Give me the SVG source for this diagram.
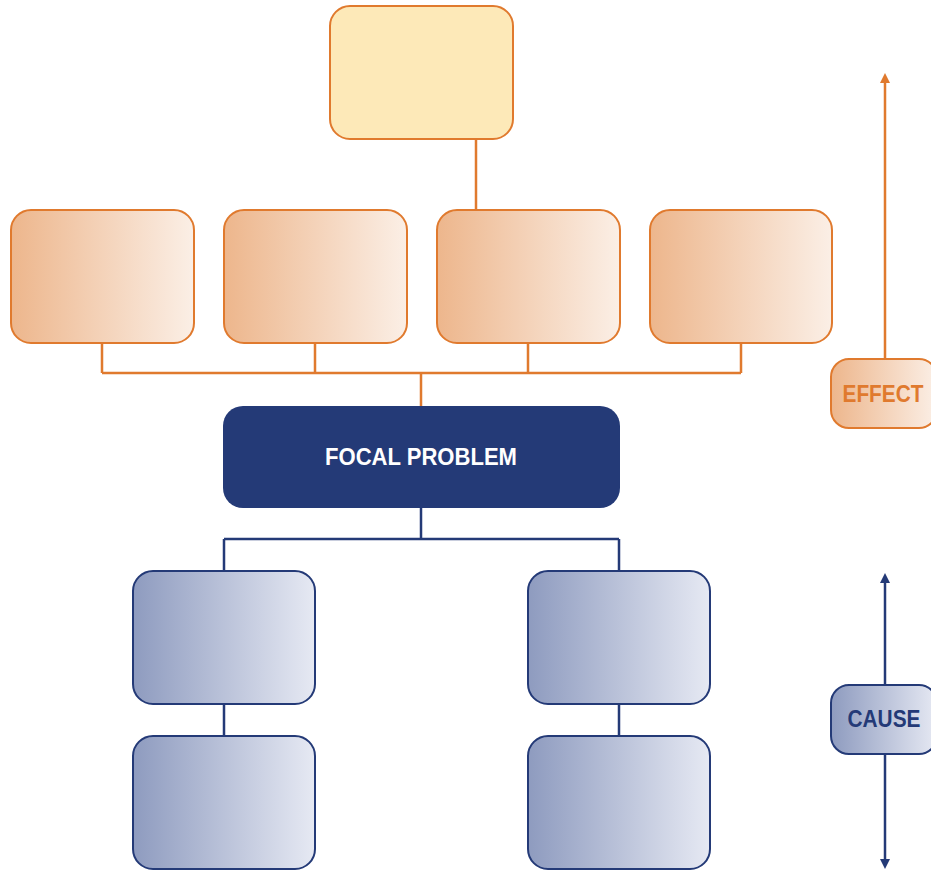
<svg xmlns="http://www.w3.org/2000/svg" width="931" height="872" viewBox="0 0 931 872">
<defs>
<linearGradient id="og" x1="0" y1="0" x2="1" y2="0"><stop offset="0" stop-color="#edb68c"/><stop offset="1" stop-color="#fbefe6"/></linearGradient>
<linearGradient id="bg" x1="0" y1="0" x2="1" y2="0"><stop offset="0" stop-color="#8e9bbf"/><stop offset="1" stop-color="#e6e9f3"/></linearGradient>
<marker id="ao" viewBox="0 0 10 10" refX="5" refY="5" markerWidth="10" markerHeight="10" markerUnits="userSpaceOnUse" orient="auto-start-reverse"><path d="M0,0 L10,5 L0,10 z" fill="#e07a2e"/></marker>
<marker id="ab" viewBox="0 0 10 10" refX="5" refY="5" markerWidth="10" markerHeight="10" markerUnits="userSpaceOnUse" orient="auto-start-reverse"><path d="M0,0 L10,5 L0,10 z" fill="#243a77"/></marker>
</defs>
<style>
.eff{fill:url(#og);stroke:#e07a2e;stroke-width:2}
.cau{fill:url(#bg);stroke:#243a77;stroke-width:2}
.co{fill:none;stroke:#e07a2e;stroke-width:2.5}
.cb{fill:none;stroke:#243a77;stroke-width:2.5}
.lbl{font-family:"Liberation Sans",Arial,sans-serif;font-weight:bold;text-anchor:middle}
</style>
<rect width="931" height="872" fill="#ffffff"/>
<g id="connectors">
<path class="co" d="M476,139 V210"/>
<path class="co" d="M102,343 V373 M315,343 V373 M528,343 V373 M741,343 V373 M102,373 H741 M421,373 V406"/>
<path class="cb" d="M421,508 V539 M224,539 H619 M224,539 V571 M619,539 V571 M224,704 V736 M619,704 V736"/>
<path class="co" d="M885,359 V78" marker-end="url(#ao)"/>
<path class="cb" d="M885,685 V578" marker-end="url(#ab)"/>
<path class="cb" d="M885,754 V864" marker-end="url(#ab)"/>
</g>
<g id="top"><rect x="330" y="6" width="183" height="133" rx="20" fill="#fde9b8" stroke="#e07a2e" stroke-width="2"/></g>
<g id="effect1"><rect class="eff" x="11" y="210" width="183" height="133" rx="20"/></g>
<g id="effect2"><rect class="eff" x="224" y="210" width="183" height="133" rx="20"/></g>
<g id="effect3"><rect class="eff" x="437" y="210" width="183" height="133" rx="20"/></g>
<g id="effect4"><rect class="eff" x="650" y="210" width="182" height="133" rx="20"/></g>
<g id="focal"><rect x="223" y="406" width="397" height="102" rx="20" fill="#243a77"/>
<text class="lbl" x="421" y="465" font-size="24" fill="#ffffff" textLength="192" lengthAdjust="spacingAndGlyphs">FOCAL PROBLEM</text></g>
<g id="cause1"><rect class="cau" x="133" y="571" width="182" height="133" rx="20"/></g>
<g id="cause2"><rect class="cau" x="528" y="571" width="182" height="133" rx="20"/></g>
<g id="cause3"><rect class="cau" x="133" y="736" width="182" height="133" rx="20"/></g>
<g id="cause4"><rect class="cau" x="528" y="736" width="182" height="133" rx="20"/></g>
<g id="effectLabel"><rect class="eff" x="831" y="359" width="106" height="69" rx="18"/>
<text class="lbl" x="883" y="402" font-size="23" fill="#e07a2e" textLength="81" lengthAdjust="spacingAndGlyphs">EFFECT</text></g>
<g id="causeLabel"><rect class="cau" x="831" y="685" width="106" height="69" rx="18"/>
<text class="lbl" x="884" y="727" font-size="23" fill="#243a77" textLength="73" lengthAdjust="spacingAndGlyphs">CAUSE</text></g>
</svg>
